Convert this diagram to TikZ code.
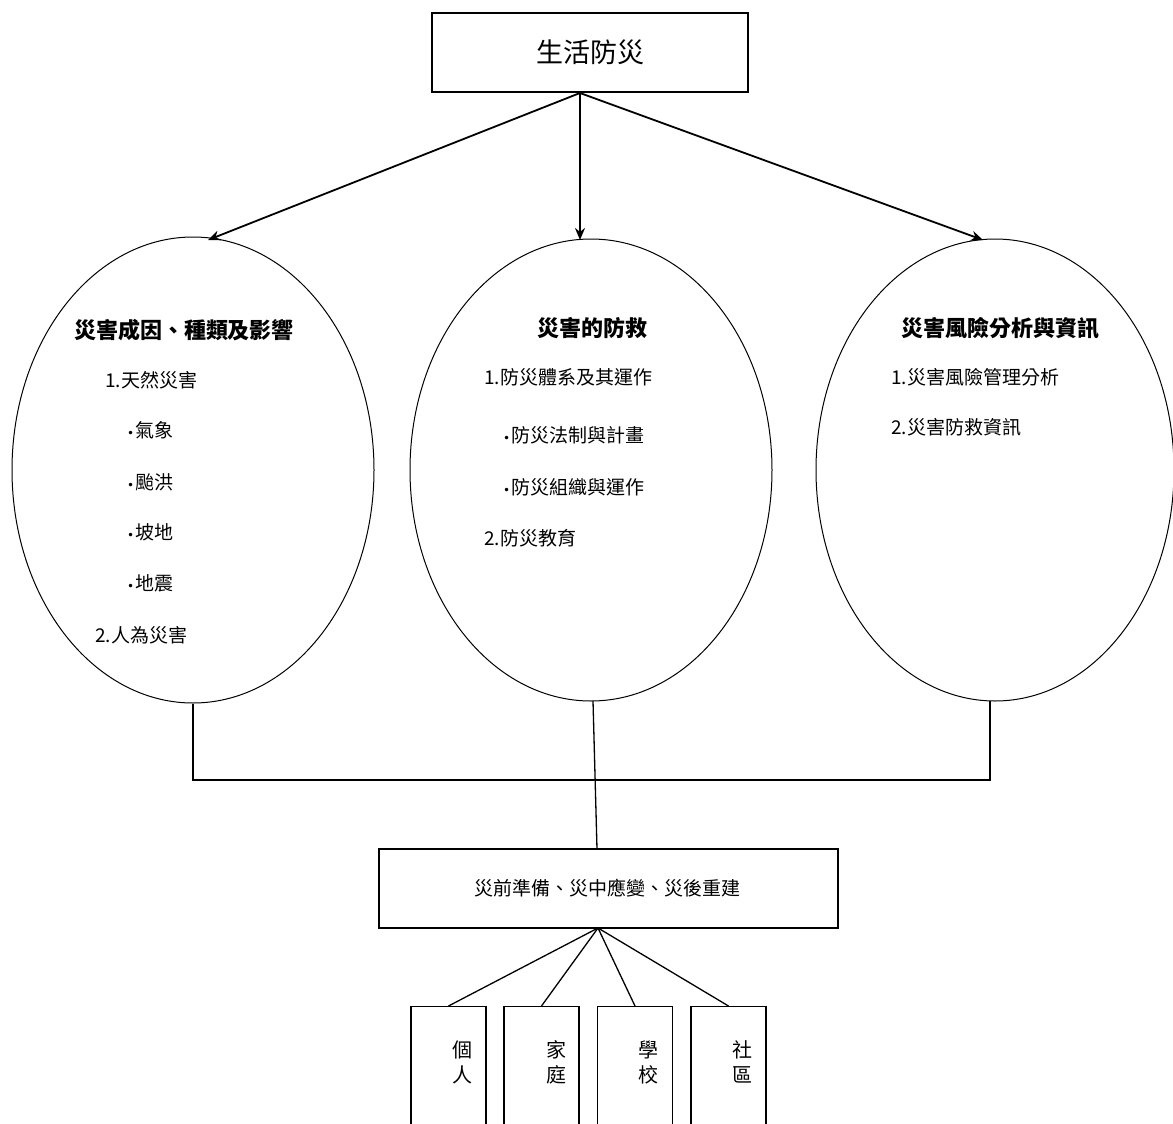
\documentclass[tikz,border=0pt]{standalone}
\usepackage{fontspec}
\setmainfont{Noto Sans CJK TC}
\newfontfamily\dvfont{DejaVu Sans}
\newcommand{\bul}{{\dvfont\fontsize{12}{14}\selectfont •}\kern1pt}
\usetikzlibrary{shapes.geometric,arrows.meta}
\begin{document}
\begin{tikzpicture}[x=1pt,y=-1pt,
  boxline/.style={draw, line width=1.4pt, inner sep=0pt},
  oval/.style={draw, ellipse, line width=1pt, inner sep=0pt},
  arr/.style={line width=1.8pt, -{Stealth[length=12pt,width=10pt]}},
  link/.style={line width=1.3pt},
  body/.style={font=\fontsize{19}{22}\selectfont, anchor=west, inner sep=0pt},
  ttl/.style={font=\fontsize{22}{26}\selectfont\bfseries, inner sep=0pt},
  small/.style={font=\fontsize{20}{25}\selectfont, align=center, inner sep=0pt}]
\useasboundingbox (0,0) rectangle (1173,1124);
\clip (0,0) rectangle (1173,1124);
\fill[white] (0,0) rectangle (1173,1124);

% top box
\node[boxline, minimum width=316pt, minimum height=79pt, font=\fontsize{27}{30}\selectfont] (top) at (590,52.5) {生活防災};
\coordinate (topout) at (580,93);

% ellipses
\node[oval, minimum width=362pt, minimum height=466pt] (e1) at (193,470) {};
\node[oval, minimum width=362pt, minimum height=462pt] (e2) at (591,470) {};
\node[oval, minimum width=358pt, minimum height=462pt] (e3) at (995,470) {};

\coordinate (t1) at (208,240);
\coordinate (t2) at (580,240);
\coordinate (t3) at (983,240);
\draw[arr] (topout) -- (t1);
\draw[arr] (topout) -- (t2);
\draw[arr] (topout) -- (t3);

% ellipse 1 text
\node[ttl] (h1) at (184,330) {災害成因、種類及影響};
\node[body] (a1) at (105,380) {1.天然災害};
\node[body] (a2) at (127,430) {\bul 氣象};
\node[body] (a3) at (127,482) {\bul 颱洪};
\node[body] (a4) at (127,532) {\bul 坡地};
\node[body] (a5) at (127,583) {\bul 地震};
\node[body] (a6) at (95,635) {2.人為災害};

% ellipse 2 text
\node[ttl] (h2) at (592,328) {災害的防救};
\node[body] (b1) at (484,377) {1.防災體系及其運作};
\node[body] (b2) at (503,435) {\bul 防災法制與計畫};
\node[body] (b3) at (503,487) {\bul 防災組織與運作};
\node[body] (b4) at (484,538) {2.防災教育};

% ellipse 3 text
\node[ttl] (h3) at (1000,328) {災害風險分析與資訊};
\node[body] (c1) at (891,377) {1.災害風險管理分析};
\node[body] (c2) at (891,427) {2.災害防救資訊};

% bottom box
\node[boxline, minimum width=459pt, minimum height=79pt, font=\fontsize{19}{22}\selectfont] (mid) at (608.5,888.5) {\hspace*{-2pt}災前準備、災中應變、災後重建};

% connectors from ellipses
\coordinate (j1) at (193,780);
\coordinate (j3) at (990,780);
\coordinate (e3b) at (990,701);
\coordinate (midin) at (597,849);
\coordinate (e2b) at (593,701);
\draw[link] (e1.south) -- (j1) -- (j3) -- (e3b);
\draw[link] (e2b) -- (midin);

% small boxes
\node[boxline, minimum width=75pt, minimum height=140pt, anchor=north] (s1) at (448.5,1006) {};
\node[boxline, minimum width=75pt, minimum height=140pt, anchor=north] (s2) at (541.5,1006) {};
\node[boxline, minimum width=75pt, minimum height=140pt, anchor=north] (s3) at (635,1006) {};
\node[boxline, minimum width=75pt, minimum height=140pt, anchor=north] (s4) at (728.5,1006) {};
\node[small] (l1) at (462,1062) {個\\人};
\node[small] (l2) at (556,1062) {家\\庭};
\node[small] (l3) at (648,1062) {學\\校};
\node[small] (l4) at (742,1062) {社\\區};

\coordinate (midout) at (598,928);
\draw[link] (midout) -- (s1.north);
\draw[link] (midout) -- (s2.north);
\draw[link] (midout) -- (s3.north);
\draw[link] (midout) -- (s4.north);
\end{tikzpicture}
\end{document}
